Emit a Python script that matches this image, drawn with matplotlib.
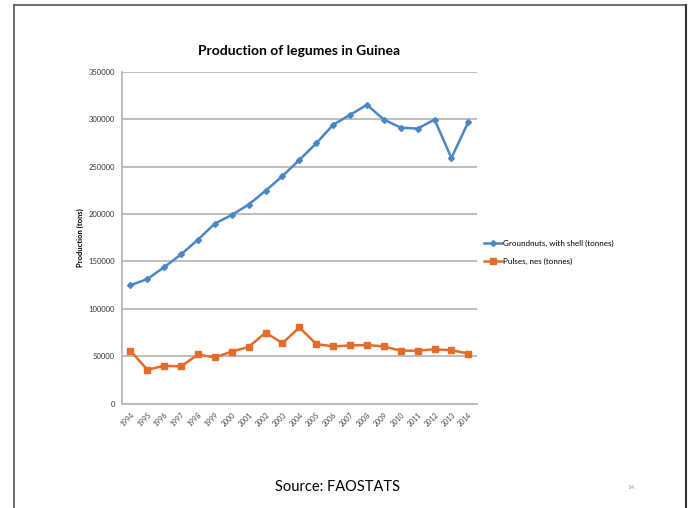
import matplotlib.pyplot as plt
from matplotlib.lines import Line2D

years = [str(y) for y in range(1994, 2015)]
groundnuts = [125000, 131500, 144000, 157500, 173000, 190000, 199000, 210000, 224500, 240000,
              257000, 274500, 294000, 304500, 315000, 299500, 291000, 290000, 299500, 259000, 297000]
pulses = [56000, 36000, 40000, 39500, 52000, 49000, 55000, 60000, 75000, 64000,
          80500, 63000, 60500, 61500, 62000, 60500, 56000, 56000, 57500, 56500, 53000]
yticks = [0, 50000, 100000, 150000, 200000, 250000, 300000, 350000]

plt.rcParams['font.family'] = ['Lato', 'DejaVu Sans']

fig = plt.figure(figsize=[6.93, 5.08], dpi=100)
ax = fig.add_axes([0.176, 0.205, 0.512, 0.654])

x = range(len(years))
ax.plot(x, groundnuts, color='#4A86C5', lw=1.8, marker='D', markersize=3,
        label='Groundnuts, with shell (tonnes)')
ax.plot(x, pulses, color='#E46C2A', lw=1.8, marker='s', markersize=4.5,
        label='Pulses, nes (tonnes)')

ax.set_xlim(-0.5, len(years) - 0.5)
ax.set_ylim(0, 350000)
ax.set_yticks(yticks)
ax.set_yticklabels([str(v) for v in yticks], fontsize=5.5, color='#333333')
ax.set_xticks(list(x))
ax.set_xticklabels(years, rotation=45, fontsize=5, color='#444444', ha='right', rotation_mode='anchor')
ax.tick_params(length=0, pad=5)
ax.grid(axis='y', color='#b8b8b8', lw=1.3)
ax.set_axisbelow(True)
for s in ['top', 'right']:
    ax.spines[s].set_visible(False)
for s in ['left', 'bottom']:
    ax.spines[s].set_color('#b8b8b8')
    ax.spines[s].set_linewidth(1.3)

ax.set_ylabel('Production (tons)', fontsize=5.5, fontweight='bold', labelpad=3)
ax.set_title('Production of legumes in Guinea', fontsize=10, fontweight='bold', pad=12)

ax.legend(loc='center left', bbox_to_anchor=(1.0, 0.455), frameon=False, fontsize=5.8,
          handlelength=2.2, handletextpad=0.2, labelspacing=1.3)

fig.text(0.487, 0.041, 'Source: FAOSTATS', fontsize=10.5, ha='center', va='center')
fig.text(0.91, 0.041, '14', fontsize=4.5, color='#999999', ha='center', va='center')

# slide border
fig.add_artist(Line2D([0.020, 0.020], [0, 0.990], color='#555555', lw=1.2))
fig.add_artist(Line2D([0.020, 0.990], [0.990, 0.990], color='#555555', lw=1.2))
fig.add_artist(Line2D([0.990, 0.990], [0, 0.990], color='#333333', lw=1.5))

fig.savefig('out.png', dpi=100)
